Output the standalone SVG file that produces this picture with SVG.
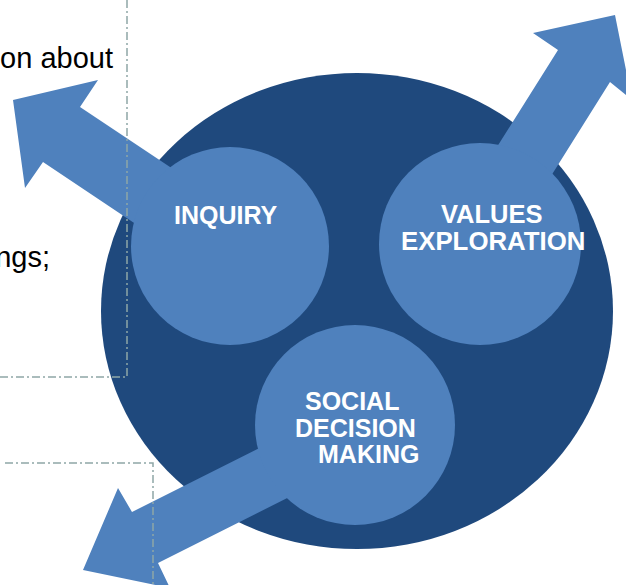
<svg xmlns="http://www.w3.org/2000/svg" width="626" height="585" viewBox="0 0 626 585">
<style>
.dark{fill:#1F497D}
.light{fill:#4F81BD}
.lbl{font-family:"Liberation Sans",Arial,sans-serif;font-weight:bold;font-size:25px;fill:#FFFFFF}
.txt{font-family:"Liberation Sans",Arial,sans-serif;font-size:29px;fill:#000000}
.dash{fill:none;stroke:#8FA7A7;stroke-width:1.5;stroke-dasharray:8 3 2 3}
</style>
<rect width="626" height="585" fill="#FFFFFF"/>
<text class="txt" x="113" y="68" text-anchor="end">on about</text>
<text class="txt" x="50" y="267" text-anchor="end">ngs;</text>
<g id="hub">
<ellipse class="dark" cx="357" cy="311" rx="256" ry="238"/>
</g>
<g id="connectors">
<polygon class="light" points="13,100 98,80 80,107 200,187 170,247 43,162 25,188"/>
<polygon class="light" points="615,15 533,33 558,50 478,177 546,184 610,82 632,100"/>
<polygon class="light" points="83,570 118,488 132,512 311,422 337,473 158,563 170,588"/>
</g>
<g id="inquiry">
<circle class="light" cx="230" cy="246" r="99"/>
<text class="lbl" x="174" y="224">INQUIRY</text>
</g>
<g id="values">
<circle class="light" cx="480" cy="244" r="101"/>
<text class="lbl" x="441" y="223" style="font-size:25.5px">VALUES</text>
<text class="lbl" x="401" y="250" style="font-size:25.8px">EXPLORATION</text>
</g>
<g id="social">
<circle class="light" cx="355" cy="425" r="100"/>
<text class="lbl" x="305" y="410">SOCIAL</text>
<text class="lbl" x="295" y="437">DECISION</text>
<text class="lbl" x="318" y="463">MAKING</text>
</g>
<g id="guides">
<polyline class="dash" points="127,0 127,377 0,377"/>
<polyline class="dash" points="5,463 153,463 153,585"/>
</g>
</svg>
